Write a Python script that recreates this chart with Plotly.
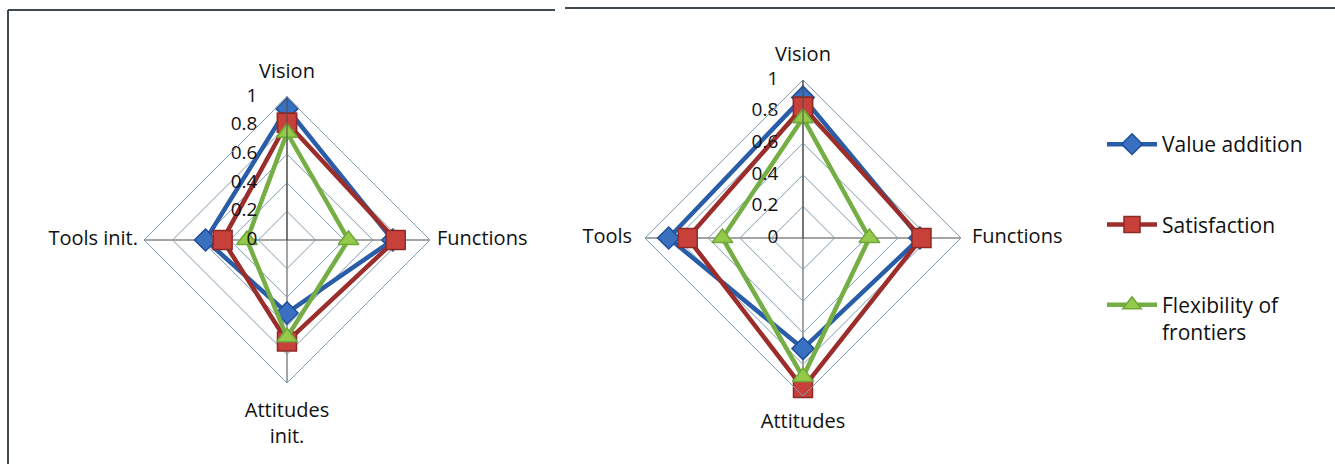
import plotly.graph_objects as go

# categories for each radar
cats_left = ["Vision", "Functions", "Attitudes<br>init.", "Tools init."]
cats_right = ["Vision", "Functions", "Attitudes", "Tools"]

series = ["Value addition", "Satisfaction", "Flexibility of<br>frontiers"]

# values (Vision, Functions, Attitudes, Tools)
left_value_addition = [0.92, 0.74, 0.51, 0.57]
left_satisfaction = [0.82, 0.76, 0.71, 0.45]
left_flexibility = [0.75, 0.43, 0.68, 0.28]

right_value_addition = [0.89, 0.74, 0.70, 0.85]
right_satisfaction = [0.83, 0.75, 0.95, 0.73]
right_flexibility = [0.76, 0.42, 0.88, 0.51]

radial_ticks = [0, 0.2, 0.4, 0.6, 0.8, 1]
radial_labels = ["0", "0.2", "0.4", "0.6", "0.8", "1"]

FONT = "Open Sans"
line_cols = ["#2A5DA8", "#9B2D2A", "#74AE44"]
fill_cols = ["#3A70C0", "#C8403A", "#94C94A"]
edge_cols = ["#1F4E9A", "#8E2A26", "#6FA83A"]
symbols = ["diamond", "square", "triangle-up"]
sizes = [17, 19, 18]

W, H = 1335, 464


def close(v):
    return list(v) + [v[0]]


fig = go.Figure()

left_data = [left_value_addition, left_satisfaction, left_flexibility]
right_data = [right_value_addition, right_satisfaction, right_flexibility]

for i, name in enumerate(series):
    fig.add_trace(go.Scatterpolar(
        r=close(left_data[i]), theta=close(cats_left), subplot="polar",
        mode="lines+markers", name=name, legendgroup=name, showlegend=False,
        line=dict(color=line_cols[i], width=4.5),
        marker=dict(symbol=symbols[i], size=sizes[i], color=fill_cols[i],
                    line=dict(color=edge_cols[i], width=1.5)),
    ))
for i, name in enumerate(series):
    fig.add_trace(go.Scatterpolar(
        r=close(right_data[i]), theta=close(cats_right), subplot="polar2",
        mode="lines+markers", name=name, legendgroup=name, showlegend=True,
        line=dict(color=line_cols[i], width=4.5),
        marker=dict(symbol=symbols[i], size=sizes[i], color=fill_cols[i],
                    line=dict(color=edge_cols[i], width=1.5)),
    ))

# radial tick labels, Excel style: right aligned, left of the vertical spoke, on top
for sp, cats, npad in [("polar", cats_left, 6), ("polar2", cats_right, 5)]:
    fig.add_trace(go.Scatterpolar(
        r=[max(t, 1e-6) for t in radial_ticks], theta=[cats[0]] * len(radial_ticks),
        subplot=sp, mode="text", cliponaxis=False,
        text=[t + "\u00a0" * npad for t in radial_labels], textposition="middle left",
        textfont=dict(family=FONT, size=19, color="#111"),
        showlegend=False, hoverinfo="skip",
    ))

# category labels at the outer vertices; an invisible marker sets the gap
label_pos = ["top center", "middle right", "bottom center", "middle left"]
for sp, cats, gaps in [("polar", cats_left, [21, 9.6, 28, 8]),
                       ("polar2", cats_right, [21, 16, 25, 19])]:
    fig.add_trace(go.Scatterpolar(
        r=[1] * len(cats), theta=cats, subplot=sp, mode="markers+text",
        cliponaxis=False, text=cats, textposition=label_pos,
        marker=dict(size=gaps, opacity=0),
        textfont=dict(family=FONT, size=20, color="#111"),
        showlegend=False, hoverinfo="skip",
    ))


def polar_layout(cx, cy, r, cats):
    return dict(
        domain=dict(x=[(cx - r) / W, (cx + r) / W],
                    y=[(H - cy - r) / H, (H - cy + r) / H]),
        gridshape="linear",
        bgcolor="white",
        radialaxis=dict(range=[0, 1], tickvals=radial_ticks, showticklabels=False,
                        angle=90, showline=True, linecolor="#4A4A4A", linewidth=1,
                        gridcolor="#7F9CB0", gridwidth=1, ticks=""),
        angularaxis=dict(type="category", categoryarray=cats, direction="clockwise",
                         rotation=90, showline=True, linecolor="#7F9CB0", linewidth=1,
                         gridcolor="#4A4A4A", gridwidth=1,
                         ticks="", showticklabels=False),
    )


fig.update_layout(
    width=W, height=H,
    margin=dict(l=0, r=0, t=0, b=0),
    paper_bgcolor="white",
    font=dict(family=FONT, size=20, color="#111"),
    polar=polar_layout(287, 240, 143, cats_left),
    polar2=polar_layout(803, 238, 158, cats_right),
    legend=dict(x=1102 / W, y=1 - 124 / H, xanchor="left", yanchor="top",
                font=dict(family=FONT, size=21, color="#111"),
                tracegroupgap=50, itemwidth=50, valign="top",
                bgcolor="rgba(0,0,0,0)"),
    shapes=[
        dict(type="line", xref="paper", yref="paper", x0=8 / W, x1=555 / W,
             y0=1 - 10 / H, y1=1 - 10 / H, line=dict(color="#3E4A50", width=2)),
        dict(type="line", xref="paper", yref="paper", x0=8 / W, x1=8 / W,
             y0=0, y1=1 - 10 / H, line=dict(color="#3E4A50", width=2)),
        dict(type="line", xref="paper", yref="paper", x0=565 / W, x1=1,
             y0=1 - 8 / H, y1=1 - 8 / H, line=dict(color="#3E4A50", width=2)),
    ],
)

fig.write_html("out.html", config={"displayModeBar": False},
               post_script="document.body.style.margin='0';")
